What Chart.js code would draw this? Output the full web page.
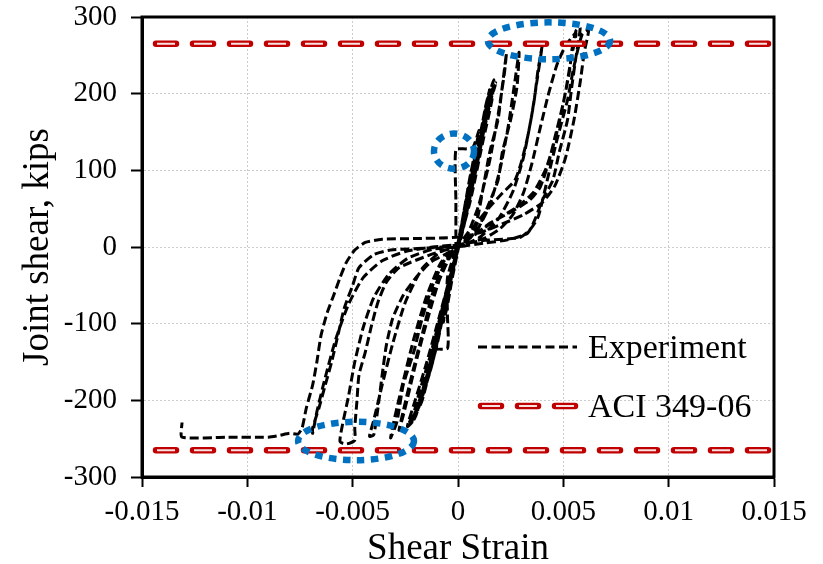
<!DOCTYPE html>
<html>
<head>
<meta charset="utf-8">
<title>Joint shear vs shear strain</title>
<script src="https://cdn.jsdelivr.net/npm/chart.js@4.4.1/dist/chart.umd.min.js"></script>
<style>
  html, body { margin: 0; padding: 0; background: #fff; }
  #wrap { width: 823px; height: 564px; }
</style>
</head>
<body>
<div id="wrap"><canvas id="jointChart" width="823" height="564"></canvas></div>
<script>
// axis tick labels
const xTickLabels = ['-0.015', '-0.01', '-0.005', '0', '0.005', '0.01', '0.015'];
const yTickLabels = ['-300', '-200', '-100', '0', '100', '200', '300'];

// ACI 349-06 joint shear capacity (kips), drawn across the full strain range
const aciCapacity = 265;
const aciStrain = [-0.015, 0.015];

// test record, one array per loading cycle: [shear strain, joint shear (kips)]
const cycle1 = [[0, 0], [0.0003, 40], [0.0006, 85], [0.0004, 62], [0.0001, 18], [-0.0002, -22], [-0.0005, -68], [-0.0003, -44], [0, -4]];
const cycle2 = [[0, -4], [0.0004, 55], [0.0008, 118], [0.0006, 96], [0.0002, 34], [-0.0003, -38], [-0.0007, -98], [-0.0005, -76], [-0.0001, -12]];
const cycle3 = [[-0.0001, -12], [-0.0001, 9], [-0.0001, 60], [-0.0001, 127], [0.0004, 128], [0.0007, 129], [0.0010, 152], [0.0008, 124], [0.0004, 64], [0, 6],
  [-0.0005, -40], [-0.0005, -90], [-0.0005, -132], [-0.0011, -134], [-0.0013, -152], [-0.0010, -116], [-0.0005, -52], [0, 0]];
const cycle4 = [[0, 0], [0.0005, 72], [0.0010, 140], [0.0013, 180], [0.0015, 205], [0.0013, 182], [0.0009, 122], [0.0004, 45], [-0.0002, -25],
  [-0.0008, -100], [-0.0013, -160], [-0.0018, -192], [-0.0016, -170], [-0.0011, -120], [-0.0005, -55], [0, 0]];
const cycle5 = [[0, 0], [0.0006, 70], [0.0011, 150], [0.0015, 198], [0.0018, 214], [0.0016, 196], [0.0012, 148], [0.0006, 72], [0.0001, 10],
  [-0.0005, -62], [-0.0012, -150], [-0.0017, -196], [-0.0021, -226], [-0.0024, -234], [-0.0021, -206], [-0.0015, -152], [-0.0008, -82], [0, 0]];
const cycle6 = [[0, 0], [0.0005, 55], [0.0010, 125], [0.0014, 178], [0.0017, 208], [0.0015, 186], [0.0011, 135], [0.0005, 58], [0, 2],
  [-0.0006, -70], [-0.0011, -138], [-0.0016, -185], [-0.0020, -220], [-0.0022, -230], [-0.0019, -196], [-0.0013, -140], [-0.0006, -64], [0, 0]];
const cycle6b = [[0, 0], [0.0004, 48], [0.0009, 112], [0.0013, 166], [0.0016, 200], [0.0014, 176], [0.0010, 120], [0.0004, 44], [-0.0001, -8],
  [-0.0007, -84], [-0.0012, -146], [-0.0017, -200], [-0.0019, -212], [-0.0016, -180], [-0.0010, -112], [-0.0004, -40], [0, 0]];
const cycle6c = [[0, 0], [0.0006, 62], [0.0012, 140], [0.0016, 190], [0.0017, 218], [0.0014, 190], [0.0009, 116], [0.0003, 30], [-0.0004, -48],
  [-0.0010, -128], [-0.0015, -178], [-0.0019, -210], [-0.0023, -228], [-0.0020, -214], [-0.0014, -160], [-0.0007, -74], [0, 0]];
const cycle7 = [[0, 0], [0.0005, 14], [0.0009, 35], [0.0012, 78], [0.0015, 123], [0.0019, 166], [0.0021, 209], [0.0023, 253],
  [0.0022, 226], [0.0019, 172], [0.0015, 112], [0.0010, 56], [0.0005, 20], [0, 2],
  [-0.0004, -14], [-0.0009, -44], [-0.0014, -90], [-0.0019, -140], [-0.0023, -186], [-0.0026, -220], [-0.0028, -239],
  [-0.0026, -214], [-0.0022, -168], [-0.0017, -114], [-0.0012, -60], [-0.0006, -20], [0, 0]];
const cycle8 = [[0, 0], [0.0004, 8], [0.0008, 18], [0.0010, 26], [0.0014, 52], [0.0019, 87], [0.0021, 123], [0.0025, 166], [0.0028, 209], [0.0029, 254],
  [0.0027, 216], [0.0024, 160], [0.0020, 102], [0.0015, 54], [0.0009, 22], [0.0003, 5], [-0.0002, -3],
  [-0.0007, -20], [-0.0012, -50], [-0.0017, -93], [-0.0021, -137], [-0.0026, -180], [-0.0029, -228], [-0.0032, -249],
  [-0.0030, -222], [-0.0026, -175], [-0.0021, -120], [-0.0015, -65], [-0.0008, -20], [0, 0]];
const cycle9 = [[0, 0], [0.0005, 10], [0.0010, 35], [0.0015, 52], [0.0021, 70], [0.0027, 87], [0.0030, 110], [0.0033, 143], [0.0036, 188], [0.0038, 231], [0.0040, 263],
  [0.0038, 226], [0.0035, 172], [0.0031, 116], [0.0026, 72], [0.0019, 36], [0.0010, 12], [0.0002, 2],
  [-0.0005, -8], [-0.0013, -20], [-0.0020, -40], [-0.0026, -63], [-0.0031, -93], [-0.0034, -128], [-0.0036, -167], [-0.0038, -210], [-0.0040, -245], [-0.0042, -247],
  [-0.0040, -226], [-0.0036, -180], [-0.0031, -126], [-0.0025, -72], [-0.0017, -28], [-0.0008, -6], [0, 0]];
const cycle10 = [[0, 0], [0.0006, 6], [0.0013, 12], [0.0020, 24], [0.0026, 42], [0.0031, 70], [0.0035, 108], [0.0039, 155], [0.0043, 200], [0.0047, 238], [0.0051, 262], [0.0056, 279],
  [0.0054, 250], [0.0051, 202], [0.0047, 150], [0.0042, 104], [0.0036, 72], [0.0029, 54], [0.0021, 40], [0.0013, 26], [0.0006, 12], [0, 2],
  [-0.0005, -3], [-0.0013, -10], [-0.0028, -27], [-0.0034, -46], [-0.0038, -72], [-0.0041, -102], [-0.0044, -137], [-0.0047, -167], [-0.0048, -202], [-0.0049, -236],
  [-0.0049, -252], [-0.0053, -257], [-0.0056, -254],
  [-0.0055, -234], [-0.0052, -195], [-0.0049, -150], [-0.0045, -105], [-0.0040, -66], [-0.0033, -36], [-0.0024, -15], [-0.0012, -3], [0, 0]];
const cycle11 = [[0, 0], [0.0012, 5], [0.0023, 9], [0.0033, 18], [0.0037, 39], [0.0040, 61], [0.0045, 87], [0.0048, 123], [0.0052, 166], [0.0054, 209], [0.0056, 248], [0.0058, 286],
  [0.0056, 282], [0.0054, 256], [0.0053, 231], [0.0050, 188], [0.0046, 143], [0.0043, 110], [0.0039, 78], [0.0034, 61], [0.0024, 44], [0.0015, 31], [0.0009, 18], [0.0003, 8], [-0.0002, 2],
  [-0.0012, -1], [-0.0032, -4], [-0.0040, -10], [-0.0047, -27], [-0.0050, -50], [-0.0054, -80], [-0.0057, -115], [-0.0060, -150], [-0.0063, -180], [-0.0066, -210], [-0.0069, -236], [-0.0069, -243],
  [-0.0067, -215], [-0.0063, -170], [-0.0058, -120], [-0.0052, -75], [-0.0045, -40], [-0.0036, -18], [-0.0025, -6], [-0.0012, 0], [0, 3]];
const cycle12 = [[0, 3], [0.0014, 9], [0.0029, 12], [0.0034, 22], [0.0038, 39], [0.0042, 83], [0.0047, 140], [0.0052, 192], [0.0055, 235], [0.0059, 278], [0.0062, 283],
  [0.0060, 255], [0.0058, 215], [0.0055, 165], [0.0051, 116], [0.0046, 80], [0.0040, 58], [0.0031, 42], [0.0021, 30], [0.0012, 20], [0.0004, 14],
  [-0.0005, 12], [-0.0020, 11], [-0.0036, 10], [-0.0044, 6], [-0.0049, -4], [-0.0053, -20], [-0.0056, -40], [-0.0059, -63], [-0.0062, -85], [-0.0065, -115], [-0.0067, -150],
  [-0.0069, -180], [-0.0072, -210], [-0.0074, -236], [-0.0076, -244], [-0.0080, -243], [-0.0085, -246], [-0.0090, -248], [-0.0110, -248], [-0.0131, -248], [-0.0131, -229]];

const cycles = [cycle1, cycle2, cycle3, cycle4, cycle5, cycle6, cycle6b, cycle6c, cycle7, cycle8, cycle9, cycle10, cycle11, cycle12];

// highlighted regions: [centre strain, centre shear, strain radius, shear radius]
const highlights = [
  [0.00432, 269, 0.0029, 24],
  [-0.00019, 125, 0.00095, 23],
  [-0.00484, -253, 0.00275, 25]
];

const serif = "'Liberation Serif', 'Times New Roman', serif";
const aciRed = '#c00000';
const aciCore = '#f8e2e2';
const highlightBlue = '#0070c0';

const experimentPoints = cycles.flat().map(p => ({ x: p[0], y: p[1] }));

function aciLine(level, core) {
  return {
    label: 'ACI 349-06',
    data: aciStrain.map(s => ({ x: s, y: level })),
    borderColor: core ? aciCore : aciRed,
    borderWidth: core ? 2 : 6.5,
    borderDash: core ? [18, 19] : [20, 17],
    borderDashOffset: core ? 22 : 23,
    borderCapStyle: core ? 'butt' : 'round',
    pointRadius: 0,
    fill: false,
    order: core ? 0 : 1
  };
}

// frame, highlight ellipses and legend drawn on top of the plot
const overlayPlugin = {
  id: 'overlay',
  afterDatasetsDraw(chart) {
    const { ctx, chartArea, scales } = chart;
    ctx.save();
    ctx.strokeStyle = '#000';
    ctx.lineWidth = 3;
    ctx.setLineDash([]);
    ctx.strokeRect(chartArea.left, chartArea.top, chartArea.right - chartArea.left, chartArea.bottom - chartArea.top);

    ctx.strokeStyle = highlightBlue;
    ctx.lineWidth = 6.5;
    ctx.setLineDash([7.5, 6.5]);
    highlights.forEach(h => {
      const cx = scales.x.getPixelForValue(h[0]);
      const cy = scales.y.getPixelForValue(h[1]);
      const rx = scales.x.getPixelForValue(h[0] + h[2]) - cx;
      const ry = cy - scales.y.getPixelForValue(h[1] + h[3]);
      ctx.beginPath();
      ctx.ellipse(cx, cy, rx, ry, 0, 0, Math.PI * 2);
      ctx.stroke();
    });
    ctx.restore();
  },
  afterDraw(chart) {
    const { ctx, chartArea } = chart;
    const x0 = chartArea.right - 296;
    const x1 = chartArea.right - 197;
    const tx = chartArea.right - 186;
    const row1 = chartArea.top + 330;
    const row2 = chartArea.top + 389;
    ctx.save();

    ctx.strokeStyle = '#000';
    ctx.lineWidth = 3;
    ctx.setLineDash([9, 4.5]);
    ctx.beginPath();
    ctx.moveTo(x0, row1);
    ctx.lineTo(x1, row1);
    ctx.stroke();

    ctx.lineCap = 'round';
    ctx.strokeStyle = aciRed;
    ctx.lineWidth = 6.5;
    ctx.setLineDash([20, 17]);
    ctx.beginPath();
    ctx.moveTo(x0 + 3, row2);
    ctx.lineTo(x1 - 2, row2);
    ctx.stroke();
    ctx.lineCap = 'butt';
    ctx.strokeStyle = aciCore;
    ctx.lineWidth = 2;
    ctx.setLineDash([18, 19]);
    ctx.lineDashOffset = -1;
    ctx.beginPath();
    ctx.moveTo(x0 + 3, row2);
    ctx.lineTo(x1 - 2, row2);
    ctx.stroke();

    ctx.fillStyle = '#000';
    ctx.font = '34px ' + serif;
    ctx.textBaseline = 'alphabetic';
    ctx.textAlign = 'left';
    ctx.fillText(chart.data.datasets[0].label, tx, row1 + 11);
    ctx.fillText(chart.data.datasets[1].label, tx, row2 + 11);
    ctx.restore();
  }
};

const tickFont = { family: serif, size: 29 };
const titleFont = { family: serif, size: 37, lineHeight: 1 };

new Chart(document.getElementById('jointChart'), {
  type: 'line',
  data: {
    datasets: [
      {
        label: 'Experiment',
        data: experimentPoints,
        borderColor: '#000',
        borderWidth: 3,
        borderDash: [9, 4],
        tension: 0.2,
        pointRadius: 0,
        fill: false,
        order: 2
      },
      aciLine(aciCapacity, false),
      aciLine(aciCapacity, true),
      aciLine(-aciCapacity, false),
      aciLine(-aciCapacity, true)
    ]
  },
  options: {
    responsive: false,
    animation: false,
    devicePixelRatio: 1,
    layout: { padding: { top: 17, right: 49, left: 0, bottom: 0 } },
    plugins: {
      legend: { display: false },
      tooltip: { enabled: false }
    },
    scales: {
      x: {
        type: 'linear',
        min: -0.015,
        max: 0.015,
        ticks: {
          stepSize: 0.005,
          autoSkip: false,
          maxRotation: 0,
          color: '#000',
          font: tickFont,
          padding: 8,
          callback: v => xTickLabels[Math.round((v + 0.015) / 0.005)]
        },
        grid: { color: '#cccccc', lineWidth: 1, tickColor: '#000', tickLength: 10, tickWidth: 2 },
        border: { color: '#000', width: 3, dash: [2, 2] },
        title: { display: true, text: 'Shear Strain', color: '#000', font: titleFont, padding: { top: 0, bottom: -4 } },
        afterFit: axis => { axis.height = 87; axis.paddingLeft = 0; axis.paddingRight = 0; }
      },
      y: {
        type: 'linear',
        min: -300,
        max: 300,
        ticks: {
          stepSize: 100,
          color: '#000',
          font: tickFont,
          padding: 14,
          callback: v => yTickLabels[Math.round((v + 300) / 100)]
        },
        grid: { color: '#cccccc', lineWidth: 1, tickColor: '#000', tickLength: 11, tickWidth: 2 },
        border: { color: '#000', width: 3, dash: [2, 2] },
        title: { display: true, text: 'Joint shear, kips', color: '#000', font: titleFont, padding: { top: 20, bottom: 0 } },
        afterFit: axis => { axis.width = 142; axis.paddingTop = 0; axis.paddingBottom = 0; }
      }
    }
  },
  plugins: [overlayPlugin]
});
</script>
</body>
</html>
